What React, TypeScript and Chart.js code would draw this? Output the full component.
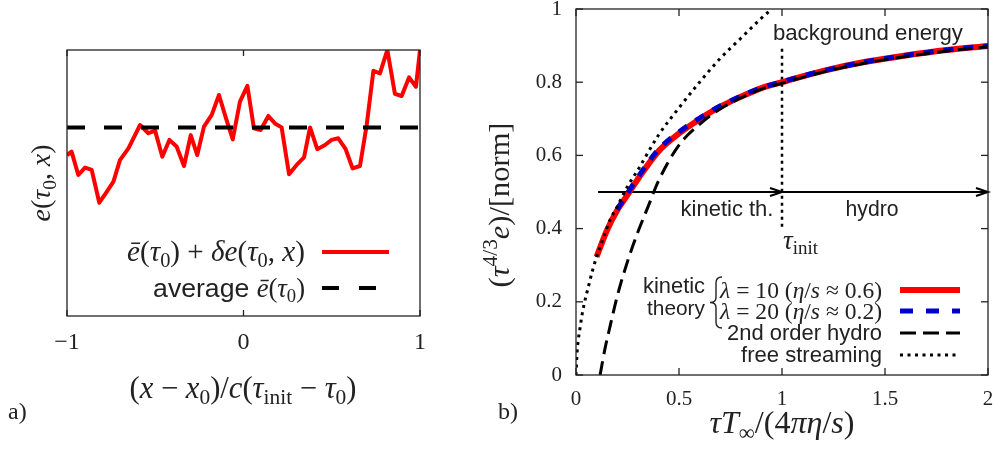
import React, { useEffect, useRef } from "react";
import { Chart, registerables } from "chart.js";
Chart.register(...registerables);

const SERIF = '"Liberation Serif", "DejaVu Serif", "Times New Roman", serif';
const SANS = '"Liberation Sans", Arial, Helvetica, sans-serif';
const INK = "#222";

// ---------- Panel a) data ----------
const posX = [-1.0, -0.974, -0.936, -0.898, -0.86, -0.817, -0.775, -0.737, -0.7, -0.652, -0.586, -0.539, -0.501, -0.46, -0.42, -0.379, -0.337, -0.299, -0.262, -0.224, -0.18, -0.139, -0.099, -0.061, -0.02, 0.022, 0.059, 0.097, 0.141, 0.178, 0.216, 0.258, 0.301, 0.343, 0.377, 0.418, 0.462, 0.499, 0.537, 0.579, 0.618, 0.66, 0.698, 0.736, 0.773, 0.815, 0.858, 0.896, 0.938, 0.977, 1.0];
const energyPert = [0.605, 0.618, 0.53, 0.558, 0.549, 0.426, 0.467, 0.505, 0.586, 0.63, 0.718, 0.687, 0.697, 0.599, 0.662, 0.637, 0.564, 0.68, 0.605, 0.712, 0.756, 0.831, 0.743, 0.664, 0.806, 0.865, 0.706, 0.699, 0.752, 0.724, 0.709, 0.533, 0.568, 0.596, 0.709, 0.627, 0.643, 0.662, 0.668, 0.627, 0.555, 0.564, 0.718, 0.922, 0.912, 1.0, 0.835, 0.827, 0.897, 0.862, 1.0];
const avgX = [-1, 1];
const avgY = [0.709, 0.709];
const ticksA = [-1, 0, 1];

// ---------- Panel b) data ----------
const kin10X = [0.1, 0.15, 0.2, 0.25, 0.3, 0.4, 0.5, 0.6, 0.7, 0.8, 0.9, 1.0, 1.2, 1.4, 1.6, 1.8, 2.0];
const kin10Y = [0.323, 0.395, 0.45, 0.492, 0.535, 0.611, 0.66, 0.699, 0.733, 0.76, 0.784, 0.8, 0.831, 0.855, 0.873, 0.888, 0.899];
const kin20X = [0.2, 0.25, 0.3, 0.4, 0.5, 0.6, 0.7, 0.8, 0.9, 1.0, 1.2, 1.4, 1.6, 1.8, 2.0];
const kin20Y = [0.452, 0.497, 0.54, 0.616, 0.664, 0.702, 0.735, 0.762, 0.785, 0.801, 0.831, 0.855, 0.873, 0.888, 0.899];
const hydroX = [0.117, 0.14, 0.165, 0.2, 0.25, 0.3, 0.35, 0.4, 0.5, 0.6, 0.7, 0.8, 0.9, 1.0, 1.2, 1.4, 1.6, 1.8, 2.0];
const hydroY = [0, 0.07, 0.132, 0.215, 0.31, 0.39, 0.46, 0.53, 0.628, 0.685, 0.727, 0.757, 0.781, 0.797, 0.828, 0.852, 0.87, 0.885, 0.897];
const freeX = [0, 0.005, 0.011, 0.02, 0.028, 0.04, 0.06, 0.08, 0.1, 0.13, 0.165, 0.2, 0.25, 0.3, 0.4, 0.5, 0.6, 0.7, 0.8, 0.9, 0.95];
const freeY = [0, 0.06, 0.095, 0.13, 0.16, 0.195, 0.241, 0.285, 0.323, 0.37, 0.423, 0.46, 0.515, 0.56, 0.655, 0.73, 0.8, 0.865, 0.92, 0.975, 1.0];
const tauInit = 1.0;
const arrowY = 0.5;
const arrowStart = 0.107;
const arrowEnd = 2.0;
const vlineY = [0.405, 0.9];

const OFFB = 470; // page x of canvas b

type Seg = { t: string; it?: boolean; sub?: boolean; sup?: boolean; sans?: boolean };

function fontFor(s: Seg, size: number) {
  const sz = s.sub || s.sup ? size * 0.7 : size;
  return `${s.it ? "italic " : ""}${sz}px ${s.sans ? SANS : SERIF}`;
}
function measureRich(ctx: CanvasRenderingContext2D, segs: Seg[], size: number) {
  let w = 0;
  for (const s of segs) {
    ctx.font = fontFor(s, size);
    w += ctx.measureText(s.t).width;
  }
  return w;
}
function drawRich(ctx: CanvasRenderingContext2D, segs: Seg[], x: number, y: number, size: number, align: "left" | "center" | "right", fit?: number) {
  let sz = size;
  if (fit) sz = (size * fit) / measureRich(ctx, segs, size);
  const w = measureRich(ctx, segs, sz);
  let cx = align === "left" ? x : align === "center" ? x - w / 2 : x - w;
  ctx.textAlign = "left";
  ctx.textBaseline = "alphabetic";
  const base = y + sz * 0.32;
  for (const s of segs) {
    ctx.font = fontFor(s, sz);
    const dy = s.sub ? sz * 0.2 : s.sup ? -sz * 0.38 : 0;
    ctx.fillText(s.t, cx, base + dy);
    cx += ctx.measureText(s.t).width;
  }
}
function seg(ctx: CanvasRenderingContext2D, x1: number, y1: number, x2: number, y2: number) {
  ctx.beginPath();
  ctx.moveTo(x1, y1);
  ctx.lineTo(x2, y2);
  ctx.stroke();
}

const panelA = {
  id: "panelA",
  afterDraw(chart: any) {
    const { ctx, chartArea } = chart;
    const { left, right, top, bottom } = chartArea;
    const xs = chart.scales.x;
    ctx.save();
    ctx.strokeStyle = INK;
    ctx.lineWidth = 1.3;
    ctx.strokeRect(left, top, right - left, bottom - top);
    for (const v of ticksA) {
      const px = xs.getPixelForValue(v);
      seg(ctx, px, bottom, px, bottom - 6);
      seg(ctx, px, top, px, top + 6);
    }
    ctx.fillStyle = INK;
    // legend
    drawRich(ctx, [
      { t: "ē", it: true }, { t: "(" }, { t: "τ", it: true }, { t: "0", sub: true }, { t: ") + " },
      { t: "δe", it: true }, { t: "(" }, { t: "τ", it: true }, { t: "0", sub: true }, { t: ", " }, { t: "x", it: true }, { t: ")" },
    ], 305, 252, 24, "right", 178);
    ctx.strokeStyle = "#ff0000";
    ctx.lineWidth = 4;
    seg(ctx, 322, 252, 389, 252);
    drawRich(ctx, [
      { t: "average ", sans: true }, { t: "ē", it: true }, { t: "(" }, { t: "τ", it: true }, { t: "0", sub: true }, { t: ")" },
    ], 305, 288, 22, "right", 152);
    ctx.strokeStyle = "#000";
    ctx.setLineDash([17, 20]);
    seg(ctx, 322, 288, 389, 288);
    ctx.setLineDash([]);
    // y label
    ctx.save();
    ctx.translate(41, 183);
    ctx.rotate(-Math.PI / 2);
    drawRich(ctx, [{ t: "e", it: true }, { t: "(" }, { t: "τ", it: true }, { t: "0", sub: true }, { t: ", " }, { t: "x", it: true }, { t: ")" }], 0, 0, 24, "center", 77);
    ctx.restore();
    // x label
    drawRich(ctx, [
      { t: "(" }, { t: "x", it: true }, { t: " − " }, { t: "x", it: true }, { t: "0", sub: true }, { t: ")/" },
      { t: "c", it: true }, { t: "(" }, { t: "τ", it: true }, { t: "init", sub: true }, { t: " − " },
      { t: "τ", it: true }, { t: "0", sub: true }, { t: ")" },
    ], 243, 388, 24, "center", 227);
    drawRich(ctx, [{ t: "a)" }], 8, 411, 24, "left");
    ctx.restore();
  },
};

const panelBUnder = {
  id: "panelBUnder",
  beforeDatasetsDraw(chart: any) {
    const { ctx } = chart;
    const xs = chart.scales.x;
    const ys = chart.scales.y;
    ctx.save();
    ctx.strokeStyle = "#000";
    ctx.fillStyle = INK;
    ctx.lineWidth = 2;
    const ay = ys.getPixelForValue(arrowY);
    const xa = xs.getPixelForValue(arrowStart);
    const xm = xs.getPixelForValue(tauInit);
    const xe = xs.getPixelForValue(arrowEnd);
    seg(ctx, xa, ay, xe, ay);
    for (const xh of [xm, xe]) {
      ctx.beginPath();
      ctx.moveTo(xh - 12, ay - 4);
      ctx.lineTo(xh, ay);
      ctx.lineTo(xh - 12, ay + 4);
      ctx.stroke();
    }
    ctx.lineWidth = 2.5;
    ctx.setLineDash([3, 4]);
    seg(ctx, xm, ys.getPixelForValue(vlineY[0]), xm, ys.getPixelForValue(vlineY[1]));
    ctx.setLineDash([]);
    // texts
    drawRich(ctx, [{ t: "background energy", sans: true }], xs.getPixelForValue(0.956), ys.getPixelForValue(0.934), 20, "left", 190);
    drawRich(ctx, [{ t: "kinetic th.", sans: true }], xs.getPixelForValue(0.733), ys.getPixelForValue(0.454), 19, "center", 93);
    drawRich(ctx, [{ t: "hydro", sans: true }], xs.getPixelForValue(1.437), ys.getPixelForValue(0.454), 19, "center", 53);
    drawRich(ctx, [{ t: "τ", it: true }, { t: "init", sub: true }], xs.getPixelForValue(1.005), ys.getPixelForValue(0.369), 20, "left", 35);
    ctx.restore();
  },
};

const panelB = {
  id: "panelB",
  afterDraw(chart: any) {
    const { ctx, chartArea } = chart;
    const { left, right, top, bottom } = chartArea;
    const xs = chart.scales.x;
    const ys = chart.scales.y;
    ctx.save();
    ctx.strokeStyle = INK;
    ctx.lineWidth = 1.3;
    ctx.strokeRect(left, top, right - left, bottom - top);
    for (const t of xs.ticks) {
      const px = xs.getPixelForValue(t.value);
      seg(ctx, px, bottom, px, bottom - 7);
      seg(ctx, px, top, px, top + 7);
    }
    for (const t of ys.ticks) {
      const py = ys.getPixelForValue(t.value);
      seg(ctx, left, py, left + 7, py);
      seg(ctx, right, py, right - 7, py);
    }
    ctx.fillStyle = INK;
    // legend
    const tr = 882 - OFFB;
    const l1 = 900 - OFFB;
    const l2 = 960 - OFFB;
    const rows = [290, 311, 333, 355];
    drawRich(ctx, [{ t: "kinetic", sans: true }], 705 - OFFB, 286, 19, "right", 62);
    drawRich(ctx, [{ t: "theory", sans: true }], 705 - OFFB, 308, 19, "right", 58);
    // brace
    const bx = 716 - OFFB;
    const bt = 277, bb = 328, bm = (bt + bb) / 2;
    ctx.strokeStyle = INK;
    ctx.lineWidth = 1.4;
    ctx.beginPath();
    ctx.moveTo(bx + 6, bt);
    ctx.quadraticCurveTo(bx, bt, bx, bt + 6);
    ctx.lineTo(bx, bm - 5);
    ctx.quadraticCurveTo(bx, bm, bx - 6, bm);
    ctx.quadraticCurveTo(bx, bm, bx, bm + 5);
    ctx.lineTo(bx, bb - 6);
    ctx.quadraticCurveTo(bx, bb, bx + 6, bb);
    ctx.stroke();
    drawRich(ctx, [{ t: "λ", it: true }, { t: " = 10 (" }, { t: "η", it: true }, { t: "/" }, { t: "s", it: true }, { t: " ≈ 0.6)" }], tr, rows[0], 20, "right", 162);
    drawRich(ctx, [{ t: "λ", it: true }, { t: " = 20 (" }, { t: "η", it: true }, { t: "/" }, { t: "s", it: true }, { t: " ≈ 0.2)" }], tr, rows[1], 20, "right", 162);
    drawRich(ctx, [{ t: "2nd order hydro", sans: true }], tr, rows[2], 19, "right", 155);
    drawRich(ctx, [{ t: "free streaming", sans: true }], tr, rows[3], 19, "right", 141);
    ctx.strokeStyle = "#ff0000";
    ctx.lineWidth = 6;
    seg(ctx, l1, rows[0], l2, rows[0]);
    ctx.strokeStyle = "#0000cc";
    ctx.lineWidth = 5;
    ctx.setLineDash([13, 13]);
    seg(ctx, l1, rows[1], l2, rows[1]);
    ctx.strokeStyle = "#000";
    ctx.lineWidth = 3;
    ctx.setLineDash([16, 7]);
    seg(ctx, l1, rows[2], l2, rows[2]);
    ctx.setLineDash([3, 4.5]);
    seg(ctx, l1, rows[3], l2, rows[3]);
    ctx.setLineDash([]);
    // axis labels
    ctx.fillStyle = INK;
    ctx.save();
    ctx.translate(499 - OFFB, 205);
    ctx.rotate(-Math.PI / 2);
    drawRich(ctx, [{ t: "(" }, { t: "τ", it: true }, { t: "4/3", sup: true }, { t: "e", it: true }, { t: ")/[norm]" }], 0, 0, 22, "center", 165);
    ctx.restore();
    drawRich(ctx, [
      { t: "τT", it: true }, { t: "∞", sub: true }, { t: "/(4" }, { t: "πη", it: true }, { t: "/" }, { t: "s", it: true }, { t: ")" },
    ], 782 - OFFB, 423, 22, "center", 145);
    drawRich(ctx, [{ t: "b)" }], 498 - OFFB, 411, 24, "left");
    ctx.restore();
  },
};

function zip(xs: number[], ys: number[]) {
  return xs.map((x, i) => ({ x, y: ys[i] }));
}

function noPad(s: any) {
  s.paddingLeft = 0;
  s.paddingRight = 0;
  s.paddingTop = 0;
  s.paddingBottom = 0;
}

export default function App() {
  const refA = useRef<HTMLCanvasElement>(null);
  const refB = useRef<HTMLCanvasElement>(null);

  useEffect(() => {
    const chartA = new Chart(refA.current as HTMLCanvasElement, {
      type: "line",
      data: {
        datasets: [
          { label: "perturbed", data: zip(posX, energyPert), borderColor: "#ff0000", borderWidth: 4, pointRadius: 0, tension: 0, order: 2, borderJoinStyle: "round" },
          { label: "average", data: zip(avgX, avgY), borderColor: "#000", borderWidth: 4, borderDash: [18, 19], pointRadius: 0, order: 1 },
        ],
      } as any,
      options: {
        responsive: false,
        animation: false,
        devicePixelRatio: 1,
        events: [],
        layout: { padding: { left: 0, right: 70, top: 50, bottom: 0 } },
        plugins: { legend: { display: false }, tooltip: { enabled: false } },
        scales: {
          x: {
            type: "linear", min: -1, max: 1,
            grid: { display: false, drawTicks: false }, border: { display: false },
            ticks: { stepSize: 1, font: { family: SERIF, size: 24 }, color: INK, padding: 12, callback: (v: any) => (v < 0 ? "−" + Math.abs(v) : String(v)) },
            afterFit: (s: any) => { s.height = 137; noPad(s); },
          },
          y: {
            type: "linear", min: 0, max: 1,
            grid: { display: false, drawTicks: false }, border: { display: false },
            ticks: { display: false },
            afterFit: (s: any) => { s.width = 67; noPad(s); },
          },
        },
      } as any,
      plugins: [panelA],
    });

    const chartB = new Chart(refB.current as HTMLCanvasElement, {
      type: "line",
      data: {
        datasets: [
          { label: "λ=10", data: zip(kin10X, kin10Y), borderColor: "#ff0000", borderWidth: 6, pointRadius: 0, cubicInterpolationMode: "monotone", order: 4 },
          { label: "λ=20", data: zip(kin20X, kin20Y), borderColor: "#0000cc", borderWidth: 5, borderDash: [10, 10], pointRadius: 0, cubicInterpolationMode: "monotone", order: 3 },
          { label: "hydro", data: zip(hydroX, hydroY), borderColor: "#000", borderWidth: 3, borderDash: [14, 7], pointRadius: 0, cubicInterpolationMode: "monotone", order: 2 },
          { label: "free", data: zip(freeX, freeY), borderColor: "#000", borderWidth: 3, borderDash: [3, 4.5], pointRadius: 0, cubicInterpolationMode: "monotone", order: 1 },
        ],
      } as any,
      options: {
        responsive: false,
        animation: false,
        devicePixelRatio: 1,
        events: [],
        layout: { padding: { left: 0, right: 5, top: 9, bottom: 0 } },
        plugins: { legend: { display: false }, tooltip: { enabled: false } },
        scales: {
          x: {
            type: "linear", min: 0, max: 2,
            grid: { display: false, drawTicks: false }, border: { display: false },
            ticks: { stepSize: 0.5, font: { family: SERIF, size: 21 }, color: INK, padding: 12, callback: (v: any) => String(Number(Number(v).toFixed(1))) },
            afterFit: (s: any) => { s.height = 78; noPad(s); },
          },
          y: {
            type: "linear", min: 0, max: 1,
            grid: { display: false, drawTicks: false }, border: { display: false },
            ticks: { stepSize: 0.2, font: { family: SERIF, size: 21 }, color: INK, padding: 14, callback: (v: any) => String(Number(Number(v).toFixed(1))) },
            afterFit: (s: any) => { s.width = 576 - OFFB; noPad(s); },
          },
        },
      } as any,
      plugins: [panelBUnder, panelB],
    });

    return () => {
      chartA.destroy();
      chartB.destroy();
    };
  }, []);

  return (
    <div style={{ position: "fixed", left: 0, top: 0, width: 993, height: 453, background: "#fff", overflow: "hidden" }}>
      <canvas ref={refA} width={490} height={453} style={{ position: "absolute", left: 0, top: 0, width: 490, height: 453 }} />
      <canvas ref={refB} width={993 - OFFB} height={453} style={{ position: "absolute", left: OFFB, top: 0, width: 993 - OFFB, height: 453 }} />
    </div>
  );
}
